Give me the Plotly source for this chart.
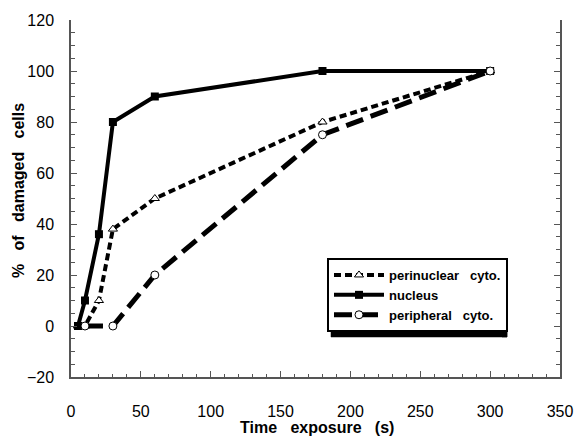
import plotly.graph_objects as go

x_nucleus = [5, 10, 20, 30, 60, 180, 300]
y_nucleus = [0, 10, 36, 80, 90, 100, 100]
x_perinuclear = [5, 10, 20, 30, 60, 180, 300]
y_perinuclear = [0, 0, 10, 38, 50, 80, 100]
x_peripheral = [10, 30, 60, 180, 300]
y_peripheral = [0, 0, 20, 75, 100]

L, R, T, B, W, H = 71, 18, 20, 59, 578, 436
PW, PH = W - L - R, H - T - B


def px(x):
    return (x - L) / PW


def py(y):
    return (H - B - y) / PH


NB = "\u00a0"

fig = go.Figure()
fig.add_trace(go.Scatter(
    x=x_perinuclear, y=y_perinuclear, name="<b>perinuclear" + NB * 3 + "cyto.</b>",
    mode="lines+markers",
    line=dict(color="black", width=4, dash="7px,4px"),
    marker=dict(symbol="triangle-up", size=8, color="white", line=dict(color="black", width=1)),
))
fig.add_trace(go.Scatter(
    x=x_nucleus, y=y_nucleus, name="<b>nucleus</b>", mode="lines+markers",
    line=dict(color="black", width=4),
    marker=dict(symbol="square", size=8, color="black"),
))
fig.add_trace(go.Scatter(
    x=x_peripheral, y=y_peripheral, name="<b>peripheral" + NB * 3 + "cyto.</b>", mode="lines+markers",
    line=dict(color="black", width=5, dash="18px,8px"),
    marker=dict(symbol="circle", size=8, color="white", line=dict(color="black", width=1)),
))

axis_common = dict(
    showgrid=False, zeroline=False, showline=True, linecolor="#555", linewidth=1.5,
    ticks="inside", tickcolor="#555", tickwidth=1, ticklen=6, automargin=False,
    tickfont=dict(family="Liberation Sans, Arial", size=16, color="black"),
)

fig.update_xaxes(
    range=[0, 350], tickvals=[0, 50, 100, 150, 200, 250, 300, 350],
    minor=dict(dtick=10, ticks="inside", ticklen=3, tickcolor="#555"),
    ticklabelstandoff=19,
    **axis_common,
)
fig.update_yaxes(
    range=[-20, 120], tickvals=[-20, 0, 20, 40, 60, 80, 100, 120],
    mirror="ticks",
    minor=dict(dtick=5, ticks="inside", ticklen=4, tickcolor="#555"),
    ticklabelstandoff=12,
    **axis_common,
)

title_font = dict(family="Liberation Sans, Arial", size=16, color="black")
fig.add_annotation(text="<b>Time" + NB * 3 + "exposure" + NB * 3 + "(s)</b>", xref="paper", yref="paper",
                   x=px(317), y=py(427), xanchor="center", yanchor="middle",
                   showarrow=False, font=title_font)
fig.add_annotation(text="<b>%" + NB * 3 + "of" + NB * 3 + "damaged" + NB * 3 + "cells</b>",
                   xref="paper", yref="paper",
                   x=px(18), y=py(191), xanchor="center", yanchor="middle", textangle=-90,
                   showarrow=False, font=title_font)

# legend drop shadow (right and bottom bands)
fig.add_shape(type="rect", xref="paper", yref="paper",
              x0=px(502), x1=px(507), y0=py(262), y1=py(337),
              fillcolor="black", line=dict(color="black", width=0.5), layer="above")
fig.add_shape(type="rect", xref="paper", yref="paper",
              x0=px(331), x1=px(507), y0=py(332), y1=py(337),
              fillcolor="black", line=dict(color="black", width=0.5), layer="above")

fig.update_layout(
    width=W, height=H,
    margin=dict(l=L, r=R, t=T, b=B),
    paper_bgcolor="white", plot_bgcolor="white",
    showlegend=True,
    legend=dict(
        x=px(327), y=py(258), xanchor="left", yanchor="top",
        bgcolor="white", bordercolor="black", borderwidth=2,
        font=dict(family="Liberation Sans, Arial", size=13, color="black"),
        itemwidth=50, tracegroupgap=4,
    ),
)

fig.write_html("out.html")
